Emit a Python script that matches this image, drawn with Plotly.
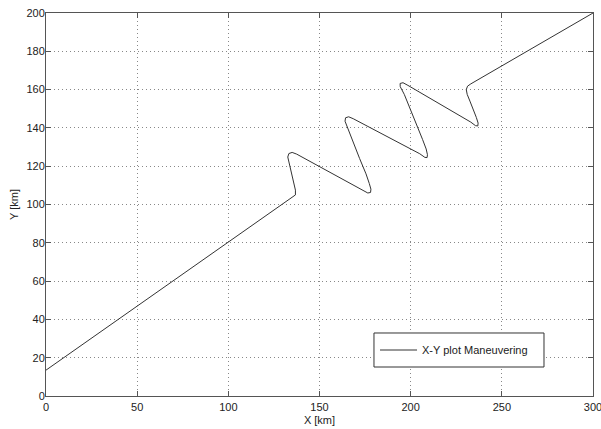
import plotly.graph_objects as go

# Trajectory, km
x_km = [0, 136.5, 136.8, 136.8, 136.0, 135.0, 133.8, 132.6, 133.2, 135.0, 137.5,
        174.0, 176.5, 178.0, 178.2, 177.3, 175.5, 172.0, 168.5, 165.5, 164.0, 164.3, 166.0, 168.5,
        205.0, 207.8, 209.0, 209.2, 208.5, 206.5, 203.0, 199.5, 196.5, 194.3, 194.2, 195.8, 198.5,
        233.0, 235.5, 236.8, 237.0, 236.0, 234.5, 232.5, 231.0, 230.5, 231.2, 233.0, 300]
y_km = [13.5, 104.5, 105.0, 107.5, 111.0, 116.0, 121.0, 124.8, 126.6, 127.2, 126.3,
        107.5, 106.0, 106.3, 108.0, 111.0, 116.0, 124.0, 132.5, 140.0, 143.5, 145.3, 145.8, 144.8,
        126.5, 124.6, 124.5, 126.0, 129.0, 134.0, 142.0, 151.0, 157.5, 161.5, 163.2, 163.6, 162.2,
        143.0, 141.2, 141.0, 142.5, 145.5, 149.5, 154.0, 157.5, 160.0, 161.8, 163.0, 200]

x_ticks = [0, 50, 100, 150, 200, 250, 300]
y_ticks = [0, 20, 40, 60, 80, 100, 120, 140, 160, 180, 200]

FONT = "Liberation Sans, Arial, sans-serif"
TXT = "#222222"

fig = go.Figure()
fig.add_trace(go.Scatter(
    x=x_km, y=y_km, mode="lines",
    line=dict(color="#333333", width=1),
    name="X-Y plot Maneuvering",
))

axis_common = dict(
    showline=True, linecolor="#555555", linewidth=1, mirror="ticks",
    ticks="inside", ticklen=5, tickcolor="#555555", tickwidth=1,
    showgrid=True, gridcolor="#888888", gridwidth=1, griddash="1px,3px",
    zeroline=False, ticklabeloverflow="allow",
    tickfont=dict(family=FONT, size=11, color=TXT),
)

fig.update_xaxes(range=[0, 300], tickvals=x_ticks, ticklabelstandoff=1, **axis_common,
                 title=dict(text="X [km]", font=dict(family=FONT, size=11, color=TXT), standoff=4))
fig.update_yaxes(range=[0, 200], tickvals=y_ticks, ticklabelstandoff=-2, **axis_common,
                 title=dict(text="Y [km]", font=dict(family=FONT, size=11, color=TXT), standoff=5))

# legend box (MATLAB style)
fig.add_shape(type="rect", xref="paper", yref="paper",
              x0=0.5996, x1=0.9104, y0=0.0757, y1=0.1645,
              line=dict(color="#333333", width=1), fillcolor="white", layer="above")

fig.update_layout(
    width=601, height=429,
    margin=dict(l=46, r=8, t=13, b=33, autoexpand=False),
    paper_bgcolor="white", plot_bgcolor="white",
    showlegend=True,
    legend=dict(
        x=0.6015, y=0.1201, xanchor="left", yanchor="middle",
        bgcolor="rgba(0,0,0,0)", borderwidth=0, itemwidth=37,
        font=dict(family=FONT, size=11, color=TXT),
    ),
)

fig.write_html("out.html", config={"displayModeBar": False},
               post_script="document.body.style.margin='0';")
